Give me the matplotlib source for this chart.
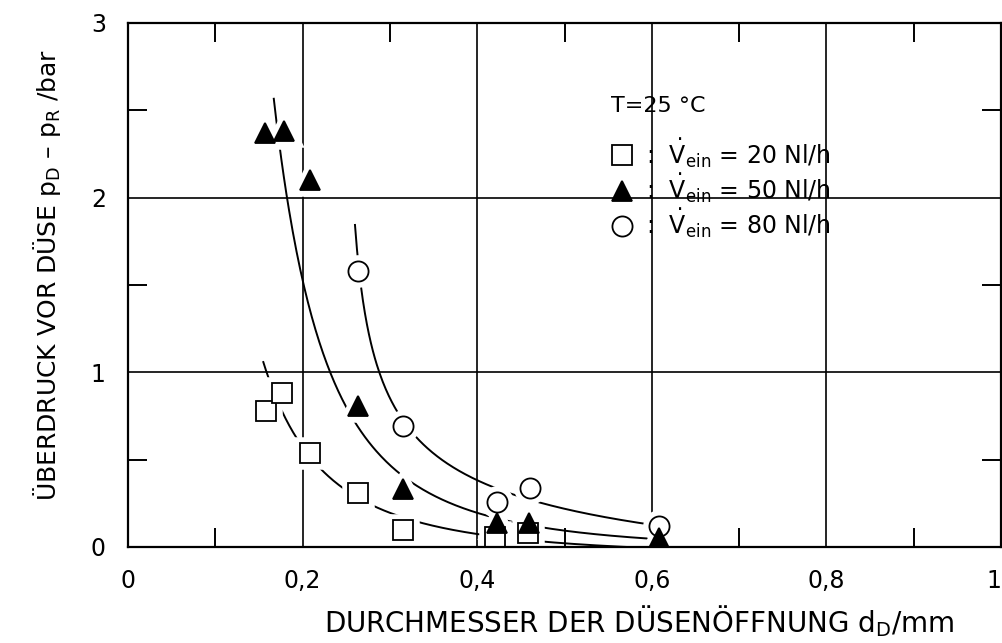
import numpy as np
import matplotlib
matplotlib.use("Agg")
import matplotlib.pyplot as plt
from matplotlib.ticker import FixedLocator, FixedFormatter

# measured points (d_D in mm, overpressure in bar)
sq_x = [0.158, 0.176, 0.208, 0.264, 0.315, 0.42, 0.458]
sq_y = [0.78, 0.88, 0.54, 0.31, 0.10, 0.06, 0.08]

tri_x = [0.157, 0.179, 0.208, 0.264, 0.315, 0.423, 0.459, 0.608]
tri_y = [2.37, 2.38, 2.10, 0.81, 0.33, 0.14, 0.14, 0.05]

circ_x = [0.263, 0.315, 0.423, 0.46, 0.608]
circ_y = [1.58, 0.69, 0.26, 0.34, 0.12]

# points along the hand-drawn fit curves
sq_curve_x = [0.155, 0.161, 0.176, 0.195, 0.22, 0.245, 0.277, 0.302, 0.332, 0.369, 0.41, 0.48]
sq_curve_y = [1.06, 0.96, 0.78, 0.62, 0.47, 0.34, 0.23, 0.18, 0.137, 0.097, 0.069, 0.046]

tri_curve_x = [0.167, 0.174, 0.182, 0.200, 0.231, 0.249, 0.258, 0.357, 0.369, 0.409, 0.48, 0.592]
tri_curve_y = [2.56, 2.29, 2.00, 1.53, 1.00, 0.82, 0.73, 0.29, 0.25, 0.17, 0.10, 0.057]

circ_curve_x = [0.260, 0.263, 0.267, 0.274, 0.286, 0.306, 0.331, 0.357, 0.403, 0.452, 0.51, 0.59]
circ_curve_y = [1.83, 1.68, 1.49, 1.28, 1.00, 0.78, 0.64, 0.53, 0.38, 0.29, 0.19, 0.13]

x_ticks = [0, 0.2, 0.4, 0.6, 0.8, 1]
x_labels = ["0", "0,2", "0,4", "0,6", "0,8", "1"]
y_ticks = [0, 1, 2, 3]
y_labels = ["0", "1", "2", "3"]


def fit_curve(xs, ys):
    """fit y = k/(x-x0)^n + c to the curve points"""
    xs = np.asarray(xs)
    ys = np.asarray(ys)
    best = None
    for x0 in np.linspace(0.0, xs.min() - 0.003, 120):
        for n in np.linspace(0.4, 3.0, 27):
            A = np.column_stack([1.0 / (xs - x0) ** n, np.ones_like(xs)])
            coef = np.linalg.lstsq(A, ys, rcond=None)[0]
            err = np.sum((A @ coef - ys) ** 2)
            if best is None or err < best[0]:
                best = (err, x0, n, coef)
    _, x0, n, coef = best
    return lambda x: coef[0] / (x - x0) ** n + coef[1]


plt.rcParams["font.family"] = ["DejaVu Sans"]
plt.rcParams["mathtext.fontset"] = "dejavusans"

fig = plt.figure(figsize=(10.02, 6.43), dpi=100)
ax = fig.add_axes([128 / 1002, 96 / 643, 873 / 1002, 524 / 643])

for cx, cy in [(sq_curve_x, sq_curve_y), (tri_curve_x, tri_curve_y), (circ_curve_x, circ_curve_y)]:
    f = fit_curve(cx, cy)
    xx = np.linspace(cx[0], 0.6, 300)
    ax.plot(xx, f(xx), color="black", lw=1.4, zorder=2)

series = [
    (sq_x, sq_y, "s", "white", 15, r":  $\dot{\mathrm{V}}_{\mathrm{ein}}$ = 20 Nl/h"),
    (circ_x, circ_y, "o", "white", 14.5, r":  $\dot{\mathrm{V}}_{\mathrm{ein}}$ = 80 Nl/h"),
    (tri_x, tri_y, "^", "black", 14, r":  $\dot{\mathrm{V}}_{\mathrm{ein}}$ = 50 Nl/h"),
]
handles = {}
for xs, ys, m, fc, ms, lab in series:
    # white halo leaves the small gaps in the curves around each marker
    ax.plot(xs, ys, ls="none", marker=m, ms=ms, mfc="white", mec="white", mew=9, zorder=3)
    h, = ax.plot(xs, ys, ls="none", marker=m, ms=ms, mfc=fc, mec="black", mew=1.3, zorder=4, label=lab)
    handles[m] = h

leg = ax.legend(handles=[handles["s"], handles["^"], handles["o"]],
                title="T=25 °C", loc="upper left", bbox_to_anchor=(0.542, 0.878),
                frameon=False, fontsize=17, title_fontsize=16, handlelength=1.0,
                handletextpad=0.5, labelspacing=0.05, alignment="left", borderaxespad=0)
leg._legend_box.sep = 14

ax.set_xlim(0, 1)
ax.set_ylim(0, 3)
ax.xaxis.set_major_locator(FixedLocator(x_ticks))
ax.xaxis.set_major_formatter(FixedFormatter(x_labels))
ax.yaxis.set_major_locator(FixedLocator(y_ticks))
ax.yaxis.set_major_formatter(FixedFormatter(y_labels))
ax.xaxis.set_minor_locator(FixedLocator([0.1, 0.3, 0.5, 0.7, 0.9]))
ax.yaxis.set_minor_locator(FixedLocator([0.5, 1.5, 2.5]))
ax.tick_params(which="major", length=0, labelsize=17, pad=16)
ax.tick_params(axis="y", which="major", pad=16)
ax.tick_params(which="minor", direction="in", length=14, width=1.4,
               top=True, right=True, bottom=True, left=True)
ax.grid(True, which="major", color="black", lw=1.2)
ax.set_axisbelow(True)
for s in ax.spines.values():
    s.set_linewidth(1.6)
    s.set_zorder(5)

# last x label sits at the figure edge
fig.canvas.draw()
ax.get_xticklabels()[-1].set_horizontalalignment("right")

ax.set_xlabel(r"DURCHMESSER DER DÜSENÖFFNUNG d$_\mathregular{D}$/mm", fontsize=20)
ax.set_ylabel(r"ÜBERDRUCK VOR DÜSE p$_\mathregular{D}$ – p$_\mathregular{R}$ /bar", fontsize=18)
ax.xaxis.set_label_coords(0.585, -0.108)
ax.yaxis.set_label_coords(-0.074, 0.52)

fig.savefig("out.png", dpi=100)
